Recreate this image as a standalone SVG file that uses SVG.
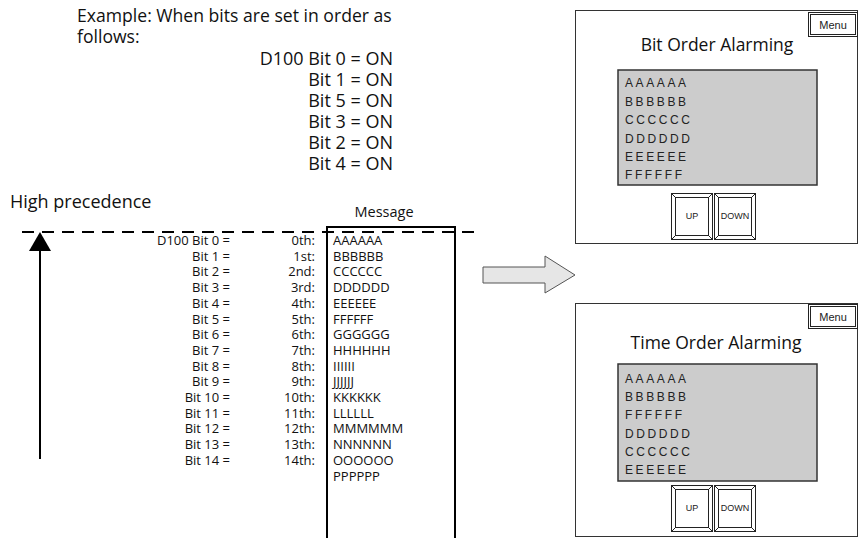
<svg xmlns="http://www.w3.org/2000/svg" width="860" height="538" viewBox="0 0 860 538">
<style>
.t{font-family:"Open Sans","Noto Sans","Liberation Sans",sans-serif;fill:#111}
.big{font-size:17.6px}
.bigr{font-size:18px}
.hd{font-size:14.5px}
.sm{font-size:13px}
.msg{font-size:13px}
.ar{font-family:"Liberation Sans",Arial,sans-serif;fill:#222}
.row{font-size:12px;letter-spacing:2.6px}
.frame{fill:#fff;stroke:#333;stroke-width:1}
.gbox{fill:#cccccc;stroke:#333;stroke-width:1.5}
.btn{fill:#fff;stroke:#222;stroke-width:1}
.title{font-size:17.5px;text-anchor:middle}
</style>
<defs>
<g id="btnshape">
<rect class="btn" x="0" y="0" width="41" height="46"/>
<rect class="btn" x="4" y="4" width="33" height="38"/>
<path d="M0 0L4 4M41 0L37 4M0 46L4 42M41 46L37 42" stroke="#222" stroke-width="1" fill="none"/>
</g>
</defs>

<g id="example-text">
<text class="t big" x="77" y="22">Example: When bits are set in order as</text>
<text class="t big" x="77" y="43">follows:</text>
<g text-anchor="end">
<text class="t bigr" x="393" y="65">D100 Bit 0 = ON</text>
<text class="t bigr" x="393" y="86">Bit 1 = ON</text>
<text class="t bigr" x="393" y="107">Bit 5 = ON</text>
<text class="t bigr" x="393" y="128">Bit 3 = ON</text>
<text class="t bigr" x="393" y="149">Bit 2 = ON</text>
<text class="t bigr" x="393" y="170">Bit 4 = ON</text>
</g>
</g>

<g id="precedence">
<text class="t bigr" x="10" y="208">High precedence</text>
<text class="t hd" x="384" y="217" text-anchor="middle">Message</text>
<line x1="22" y1="232" x2="480" y2="232" stroke="#000" stroke-width="2" stroke-dasharray="12 8"/>
<rect id="message-box" x="327" y="227" width="128" height="320" fill="none" stroke="#000" stroke-width="2"/>
</g>

<g id="connectors">
<line x1="40" y1="248" x2="40" y2="459" stroke="#000" stroke-width="2"/>
<polygon points="40,232 29,251 51,251" fill="#000"/>
<polygon points="483,267 545,267 545,256 575,275 545,293 545,283 483,283" fill="#e6e6e6" stroke="#555" stroke-width="1"/>
</g>

<g id="bit-table">
<g text-anchor="end">
<text class="t sm" x="230" y="245">D100 Bit 0 =</text>
<text class="t sm" x="230" y="260.7">Bit 1 =</text>
<text class="t sm" x="230" y="276.4">Bit 2 =</text>
<text class="t sm" x="230" y="292.1">Bit 3 =</text>
<text class="t sm" x="230" y="307.8">Bit 4 =</text>
<text class="t sm" x="230" y="323.5">Bit 5 =</text>
<text class="t sm" x="230" y="339.2">Bit 6 =</text>
<text class="t sm" x="230" y="354.9">Bit 7 =</text>
<text class="t sm" x="230" y="370.6">Bit 8 =</text>
<text class="t sm" x="230" y="386.3">Bit 9 =</text>
<text class="t sm" x="230" y="402">Bit 10 =</text>
<text class="t sm" x="230" y="417.7">Bit 11 =</text>
<text class="t sm" x="230" y="433.4">Bit 12 =</text>
<text class="t sm" x="230" y="449.1">Bit 13 =</text>
<text class="t sm" x="230" y="464.8">Bit 14 =</text>
<text class="t sm" x="315" y="245">0th:</text>
<text class="t sm" x="315" y="260.7">1st:</text>
<text class="t sm" x="315" y="276.4">2nd:</text>
<text class="t sm" x="315" y="292.1">3rd:</text>
<text class="t sm" x="315" y="307.8">4th:</text>
<text class="t sm" x="315" y="323.5">5th:</text>
<text class="t sm" x="315" y="339.2">6th:</text>
<text class="t sm" x="315" y="354.9">7th:</text>
<text class="t sm" x="315" y="370.6">8th:</text>
<text class="t sm" x="315" y="386.3">9th:</text>
<text class="t sm" x="315" y="402">10th:</text>
<text class="t sm" x="315" y="417.7">11th:</text>
<text class="t sm" x="315" y="433.4">12th:</text>
<text class="t sm" x="315" y="449.1">13th:</text>
<text class="t sm" x="315" y="464.8">14th:</text>
</g>
<text class="t msg" x="333" y="245">AAAAAA</text>
<text class="t msg" x="333" y="260.7">BBBBBB</text>
<text class="t msg" x="333" y="276.4">CCCCCC</text>
<text class="t msg" x="333" y="292.1">DDDDDD</text>
<text class="t msg" x="333" y="307.8">EEEEEE</text>
<text class="t msg" x="333" y="323.5">FFFFFF</text>
<text class="t msg" x="333" y="339.2">GGGGGG</text>
<text class="t msg" x="333" y="354.9">HHHHHH</text>
<text class="t msg" x="333" y="370.6">IIIIII</text>
<text class="t msg" x="333" y="386.3">JJJJJJ</text>
<text class="t msg" x="333" y="402">KKKKKK</text>
<text class="t msg" x="333" y="417.7">LLLLLL</text>
<text class="t msg" x="333" y="433.4">MMMMMM</text>
<text class="t msg" x="333" y="449.1">NNNNNN</text>
<text class="t msg" x="333" y="464.8">OOOOOO</text>
<text class="t msg" x="333" y="480.5">PPPPPP</text>
</g>

<g id="bit-order-screen">
<rect class="frame" x="575.5" y="10.5" width="282" height="233"/>
<rect class="btn" x="808.5" y="12.5" width="49" height="24"/>
<rect class="btn" x="810.5" y="14.5" width="45" height="20"/>
<text class="ar" x="833" y="29" font-size="11" text-anchor="middle">Menu</text>
<text class="t title" x="717" y="51">Bit Order Alarming</text>
<rect class="gbox" x="618" y="70" width="199" height="115"/>
<g class="ar row">
<text x="625" y="87.3">AAAAAA</text>
<text x="625" y="106">BBBBBB</text>
<text x="625" y="124.3">CCCCCC</text>
<text x="625" y="142.7">DDDDDD</text>
<text x="625" y="161">EEEEEE</text>
<text x="625" y="179.3">FFFFFF</text>
</g>
<use href="#btnshape" x="671.5" y="193.5"/>
<use href="#btnshape" x="714.5" y="193.5"/>
<text class="ar" x="692" y="219" font-size="9" text-anchor="middle">UP</text>
<text class="ar" x="735" y="219" font-size="9" text-anchor="middle">DOWN</text>
</g>

<g id="time-order-screen">
<rect class="frame" x="575.5" y="303.5" width="282" height="233"/>
<rect class="btn" x="808.5" y="304.5" width="49" height="24"/>
<rect class="btn" x="810.5" y="306.5" width="45" height="20"/>
<text class="ar" x="833" y="321" font-size="11" text-anchor="middle">Menu</text>
<text class="t title" x="716" y="349">Time Order Alarming</text>
<rect class="gbox" x="618" y="364" width="199" height="117"/>
<g class="ar row">
<text x="625" y="382.7">AAAAAA</text>
<text x="625" y="401">BBBBBB</text>
<text x="625" y="419.3">FFFFFF</text>
<text x="625" y="437.7">DDDDDD</text>
<text x="625" y="456">CCCCCC</text>
<text x="625" y="474.3">EEEEEE</text>
</g>
<use href="#btnshape" x="671.5" y="485.5"/>
<use href="#btnshape" x="714.5" y="485.5"/>
<text class="ar" x="692" y="511" font-size="9" text-anchor="middle">UP</text>
<text class="ar" x="735" y="511" font-size="9" text-anchor="middle">DOWN</text>
</g>
</svg>
